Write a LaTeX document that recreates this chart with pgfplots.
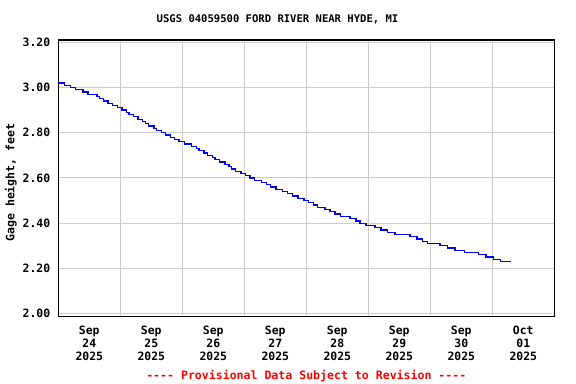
\documentclass[border=0pt]{standalone}
\usepackage{pgfplots}
\pgfplotsset{compat=1.18}
\usepackage{fontspec}
\newfontfamily\mono{DejaVu Sans Mono}
\setmainfont{DejaVu Sans Mono}[Ligatures=ResetAll]
\begin{document}
\begin{tikzpicture}
\useasboundingbox (0,0) rectangle (576bp,384bp);
\begin{axis}[
  at={(58.3bp,67.7bp)}, anchor=south west,
  scale only axis, width=496bp, height=276.3bp,
  xmin=0, xmax=8, ymin=1.988, ymax=3.210,
  xtick={0.5,1.5,2.5,3.5,4.5,5.5,6.5,7.5},
  xticklabels={{Sep\\24\\2025},{Sep\\25\\2025},{Sep\\26\\2025},{Sep\\27\\2025},{Sep\\28\\2025},{Sep\\29\\2025},{Sep\\30\\2025},{Oct\\01\\2025}},
  minor xtick={1,2,3,4,5,6,7},
  xminorgrids, ymajorgrids, xmajorgrids=false,
  ytick={2,2.2,2.4,2.6,2.8,3,3.2},
  /pgf/number format/fixed, /pgf/number format/fixed zerofill, /pgf/number format/precision=2, /pgf/number format/assume math mode=true,
  yticklabel style={font=\mono\fontsize{11.5}{12}\selectfont\bfseries, anchor=east, xshift=-4.5bp},
  xticklabel style={align=center, font=\mono\fontsize{11.5}{12.8}\selectfont\bfseries, anchor=north, yshift=-6.5bp},
  major tick length=0pt, minor tick length=0pt,
  grid style={draw=black!20, line width=1bp},
  minor grid style={draw=black!20, line width=1bp},
  axis line style={line width=1.2bp, black},
  title={USGS 04059500 FORD RIVER NEAR HYDE, MI},
  title style={at={(rel axis cs:0.442,1)}, anchor=base, yshift=12bp, font=\mono\fontsize{10.6}{12}\selectfont\bfseries},
  ylabel={Gage height, feet},
  ylabel style={at={(rel axis cs:-0.0954,0.484)}, anchor=center, font=\mono\fontsize{11.6}{12}\selectfont\bfseries},
  clip=false,
]
\addplot[const plot mark left, color={rgb,255:red,0;green,0;blue,255}, line width=1.25bp, mark=none, line join=miter] coordinates {
(0.000,3.02) (0.100,3.01) (0.194,3.00) (0.274,2.99) (0.398,2.98) (0.479,2.97)
(0.624,2.96) (0.660,2.95) (0.726,2.94) (0.802,2.93) (0.869,2.92) (0.950,2.91)
(1.027,2.90) (1.103,2.89) (1.140,2.88) (1.210,2.87) (1.285,2.86) (1.355,2.85)
(1.410,2.84) (1.452,2.83) (1.544,2.82) (1.587,2.81) (1.661,2.80) (1.732,2.79)
(1.813,2.78) (1.877,2.77) (1.947,2.76) (2.039,2.75) (2.152,2.74) (2.232,2.73)
(2.269,2.72) (2.350,2.71) (2.410,2.70) (2.484,2.69) (2.527,2.68) (2.603,2.67)
(2.689,2.66) (2.753,2.65) (2.797,2.64) (2.861,2.63) (2.947,2.62) (3.023,2.61)
(3.092,2.60) (3.161,2.59) (3.281,2.58) (3.361,2.57) (3.426,2.56) (3.511,2.55)
(3.619,2.54) (3.700,2.53) (3.774,2.52) (3.866,2.51) (3.963,2.50) (4.032,2.49)
(4.113,2.48) (4.184,2.47) (4.302,2.46) (4.382,2.45) (4.463,2.44) (4.555,2.43)
(4.705,2.42) (4.802,2.41) (4.866,2.40) (4.963,2.39) (5.108,2.38) (5.205,2.37)
(5.313,2.36) (5.431,2.35) (5.673,2.34) (5.786,2.33) (5.877,2.32) (5.952,2.31)
(6.156,2.30) (6.274,2.29) (6.398,2.28) (6.548,2.27) (6.774,2.26) (6.898,2.25)
(7.016,2.24) (7.132,2.23) (7.305,2.23)
};
\node[anchor=base, text={rgb,255:red,255;green,0;blue,0}, font=\mono\fontsize{11.6}{12}\selectfont\bfseries, yshift=-62.7bp] at (rel axis cs:0.5,0) {---- Provisional Data Subject to Revision ----};
\end{axis}
\end{tikzpicture}
\end{document}
